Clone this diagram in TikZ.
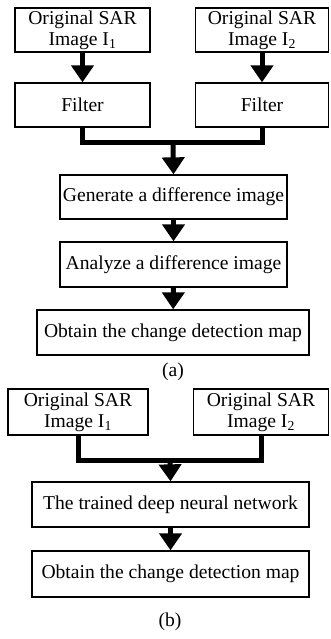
\documentclass[tikz,border=0pt]{standalone}
\usepackage{fontspec}
\setmainfont{Liberation Serif}
\usetikzlibrary{arrows.meta}
\begin{document}
\begin{tikzpicture}[x=1pt,y=-1pt,
 box/.style={draw,line width=1.3pt,inner sep=0pt,align=center,font=\fontsize{19.6}{21}\selectfont},
 flow/.style={line width=5pt,-{Triangle[width=22pt,length=17pt]}},
 link/.style={line width=5pt},
 lbl/.style={font=\fontsize{19.6}{21}\selectfont}]
\useasboundingbox (0,0) rectangle (330,639);
% (a)
\node[box,minimum width=135pt,minimum height=44pt] (a1) at (82.5,30) {Original SAR\\Image I\textsubscript{1}};
\node[box,minimum width=133pt,minimum height=44pt] (a2) at (262,30) {Original SAR\\Image I\textsubscript{2}};
\node[box,minimum width=135pt,minimum height=44pt] (f1) at (82.5,105) {Filter};
\node[box,minimum width=133pt,minimum height=44pt] (f2) at (262,105) {Filter};
\node[box,minimum width=227pt,minimum height=44pt] (g) at (173.5,197) {Generate a difference image};
\node[box,minimum width=227pt,minimum height=45pt] (an) at (173.5,264.5) {Analyze a difference image};
\node[box,minimum width=272pt,minimum height=45pt] (o) at (173,332.5) {Obtain the change detection map};
\node[lbl] (la) at (173,372) {(a)};
\draw[flow] (a1) -- (f1);
\draw[flow] (a2) -- (f2);
\coordinate (ma) at (173,143);
\draw[link] (f1.south) |- (ma) -| (f2.south);
\draw[flow] (ma) -- (g.north);
\draw[flow] (g) -- (an);
\draw[flow] (an) -- (o);
% (b)
\node[box,minimum width=140pt,minimum height=46pt] (b1) at (78,412) {Original SAR\\Image I\textsubscript{1}};
\node[box,minimum width=135pt,minimum height=46pt] (b2) at (261,412) {Original SAR\\Image I\textsubscript{2}};
\node[box,minimum width=277pt,minimum height=45pt] (t) at (170.5,504.5) {The trained deep neural network};
\node[box,minimum width=277pt,minimum height=46pt] (ob) at (170.5,574) {Obtain the change detection map};
\node[lbl] (lb) at (170,622) {(b)};
\coordinate (mb) at (170,460);
\draw[link] (b1.south) |- (mb) -| (b2.south);
\draw[flow] (mb) -- (t.north);
\draw[flow] (t) -- (ob);
\end{tikzpicture}
\end{document}
